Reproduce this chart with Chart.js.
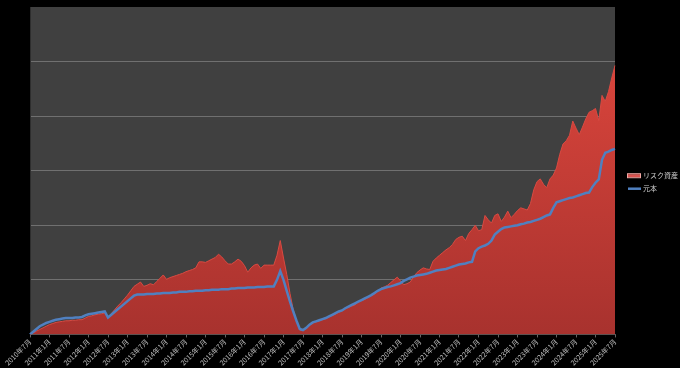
<!DOCTYPE html>
<html>
<head>
<meta charset="utf-8">
<script src="https://cdn.jsdelivr.net/npm/chart.js@4/dist/chart.umd.min.js"></script>
<style>
html,body{margin:0;padding:0;background:#000;}
#wrap{width:680px;height:368px;position:relative;}
</style>
</head>
<body>
<div id="wrap"><canvas id="c" width="680" height="368"></canvas></div>
<script>
// Monthly categories 2010年7月 .. 2025年7月
const startYear = 2010, startMonth = 7, monthCount = 181;
const categories = [];
for (let k = 0; k < monthCount; k++) {
  const m0 = startMonth - 1 + k;
  categories.push((startYear + Math.floor(m0 / 12)) + '年' + (m0 % 12 + 1) + '月');
}
const tickLabels = ['2010年7月','2011年1月','2011年7月','2012年1月','2012年7月','2013年1月','2013年7月','2014年1月','2014年7月','2015年1月','2015年7月','2016年1月','2016年7月','2017年1月','2017年7月','2018年1月','2018年7月','2019年1月','2019年7月','2020年1月','2020年7月','2021年1月','2021年7月','2022年1月','2022年7月','2023年1月','2023年7月','2024年1月','2024年7月','2025年1月','2025年7月'];

const seriesNames = ['元本', 'リスク資産'];

// 元本 (principal)
const principal = [
  0, 0.05, 0.10, 0.15, 0.18, 0.21, 0.23, 0.25, 0.27, 0.28, 0.29, 0.30,
  0.30, 0.30, 0.31, 0.31, 0.32, 0.35, 0.37, 0.38, 0.39, 0.40, 0.41, 0.42,
  0.31, 0.36, 0.41, 0.46, 0.51, 0.56, 0.61, 0.66, 0.71, 0.73, 0.73, 0.73,
  0.74, 0.74, 0.74, 0.75, 0.75, 0.76, 0.76, 0.76, 0.77, 0.77, 0.78, 0.78,
  0.78, 0.79, 0.79, 0.80, 0.80, 0.80, 0.81, 0.81, 0.82, 0.82, 0.82, 0.83,
  0.83, 0.83, 0.84, 0.84, 0.85, 0.85, 0.85, 0.86, 0.86, 0.86, 0.87, 0.87,
  0.87, 0.88, 0.88, 0.88, 1.00, 1.16, 1.00, 0.80, 0.60, 0.42, 0.25, 0.10,
  0.08, 0.12, 0.18, 0.22, 0.24, 0.26, 0.28, 0.30, 0.33, 0.36, 0.39, 0.42,
  0.44, 0.48, 0.51, 0.54, 0.57, 0.60, 0.63, 0.66, 0.69, 0.72, 0.76, 0.80,
  0.83, 0.85, 0.87, 0.88, 0.90, 0.92, 0.94, 0.98, 1.01, 1.04, 1.06, 1.08,
  1.09, 1.10, 1.11, 1.13, 1.15, 1.17, 1.18, 1.19, 1.20, 1.22, 1.24, 1.26,
  1.28, 1.29, 1.30, 1.32, 1.33, 1.52, 1.58, 1.61, 1.63, 1.66, 1.72, 1.83,
  1.88, 1.93, 1.96, 1.97, 1.98, 1.99, 2.00, 2.02, 2.03, 2.05, 2.06, 2.08,
  2.10, 2.12, 2.15, 2.18, 2.20, 2.32, 2.42, 2.44, 2.46, 2.48, 2.50, 2.51,
  2.53, 2.55, 2.57, 2.59, 2.60, 2.70, 2.78, 2.84, 3.20, 3.33, 3.35, 3.38, 3.40
];

// リスク資産 (risk assets)
const riskAssets = [
  0, 0.03, 0.06, 0.09, 0.12, 0.15, 0.18, 0.20, 0.22, 0.23, 0.24, 0.25,
  0.25, 0.26, 0.26, 0.27, 0.27, 0.30, 0.33, 0.34, 0.36, 0.37, 0.38, 0.39,
  0.31, 0.38, 0.45, 0.52, 0.58, 0.65, 0.72, 0.80, 0.88, 0.92, 0.96, 0.88,
  0.90, 0.93, 0.91, 0.97, 1.03, 1.09, 1.01, 1.04, 1.06, 1.08, 1.10, 1.12,
  1.15, 1.17, 1.19, 1.22, 1.33, 1.33, 1.32, 1.35, 1.38, 1.41, 1.47, 1.42,
  1.35, 1.29, 1.29, 1.33, 1.38, 1.34, 1.26, 1.14, 1.22, 1.27, 1.29, 1.21,
  1.27, 1.27, 1.27, 1.27, 1.45, 1.72, 1.40, 1.10, 0.75, 0.45, 0.25, 0.08,
  0.08, 0.11, 0.17, 0.21, 0.23, 0.25, 0.27, 0.29, 0.32, 0.35, 0.37, 0.41,
  0.43, 0.47, 0.50, 0.52, 0.54, 0.60, 0.62, 0.64, 0.68, 0.71, 0.74, 0.79,
  0.85, 0.87, 0.90, 0.95, 1.00, 1.05, 0.98, 0.91, 0.93, 0.96, 1.05, 1.13,
  1.18, 1.22, 1.20, 1.19, 1.34, 1.40, 1.45, 1.50, 1.55, 1.59, 1.65, 1.74,
  1.78, 1.80, 1.72, 1.85, 1.92, 2.00, 1.90, 1.92, 2.18, 2.10, 2.04, 2.18,
  2.21, 2.07, 2.15, 2.26, 2.14, 2.20, 2.27, 2.32, 2.30, 2.28, 2.40, 2.65,
  2.80, 2.85, 2.75, 2.69, 2.85, 2.92, 3.05, 3.30, 3.49, 3.55, 3.65, 3.91,
  3.78, 3.66, 3.80, 3.95, 4.07, 4.10, 4.14, 3.92, 4.38, 4.27, 4.45, 4.70, 4.93
];

const yMax = 6;
const FONT = '"Noto Sans CJK JP", "DejaVu Sans", sans-serif';

function redGradient(chart) {
  const a = chart.chartArea;
  if (!a) return '#c23b33';
  const g = chart.ctx.createLinearGradient(0, a.top, 0, a.bottom);
  g.addColorStop(0, '#e2483e');
  g.addColorStop(1, '#a8322e');
  return g;
}

const plotBg = {
  id: 'plotBg',
  beforeDraw(chart) {
    const a = chart.chartArea, ctx = chart.ctx;
    ctx.save();
    ctx.fillStyle = '#404040';
    ctx.fillRect(a.left, a.top, a.right - a.left, a.bottom - a.top);
    ctx.restore();
  }
};

// Legend drawn beside the plot, using dataset names/colours
const sideLegend = {
  id: 'sideLegend',
  afterDraw(chart) {
    const ctx = chart.ctx, a = chart.chartArea;
    const x0 = a.right + 13, yc = (a.top + a.bottom) / 2 + 5;
    const order = [1, 0];
    ctx.save();
    ctx.font = '7px ' + FONT;
    ctx.textBaseline = 'middle';
    ctx.fillStyle = '#d0d0d0';
    order.forEach((di, k) => {
      const ds = chart.data.datasets[di];
      const y = yc + k * 13;
      if (di === 1) {
        ctx.fillStyle = '#d9534f';
        ctx.fillRect(x0, y - 1.5, 12, 3);
        ctx.strokeStyle = '#f2a8a4';
        ctx.lineWidth = 1;
        ctx.strokeRect(x0 - 0.5, y - 2, 13, 4);
      } else {
        ctx.strokeStyle = ds.borderColor;
        ctx.lineWidth = 2.5;
        ctx.beginPath();
        ctx.moveTo(x0, y);
        ctx.lineTo(x0 + 13, y);
        ctx.stroke();
      }
      ctx.fillStyle = '#d0d0d0';
      ctx.fillText(ds.label, x0 + 15, y);
    });
    ctx.restore();
  }
};

new Chart(document.getElementById('c'), {
  type: 'line',
  data: {
    labels: categories,
    datasets: [
      {
        label: seriesNames[0],
        data: principal,
        borderColor: '#5080c0',
        borderWidth: 2.5,
        pointRadius: 0,
        fill: false,
        tension: 0
      },
      {
        label: seriesNames[1],
        data: riskAssets,
        borderColor: '#d84a42',
        borderWidth: 1,
        backgroundColor: (ctx) => redGradient(ctx.chart),
        pointRadius: 0,
        fill: 'origin',
        tension: 0
      }
    ]
  },
  options: {
    responsive: false,
    animation: false,
    layout: { padding: { left: 30, top: 7, right: 65, bottom: 1 } },
    plugins: {
      tooltip: { enabled: false },
      legend: { display: false }
    },
    scales: {
      x: {
        offset: false,
        grid: {
          drawOnChartArea: false,
          drawTicks: true,
          tickLength: 3,
          tickColor: (c) => (c.index % 6 === 0 ? '#666' : 'rgba(0,0,0,0)')
        },
        border: { display: true, color: '#555' },
        ticks: {
          autoSkip: false,
          maxRotation: 45,
          minRotation: 45,
          color: '#c0c0c0',
          font: { size: 7, family: FONT },
          padding: 0,
          callback: (v, i) => (i % 6 === 0 ? tickLabels[i / 6] : '')
        }
      },
      y: {
        min: 0,
        max: yMax,
        ticks: { display: false, stepSize: 1 },
        grid: {
          drawTicks: false,
          color: (c) => (c.tick && (c.tick.value === 0 || c.tick.value === yMax) ? 'rgba(0,0,0,0)' : '#707070'),
          lineWidth: 1
        },
        border: { display: true, color: '#2e2e2e' }
      }
    }
  },
  plugins: [plotBg, sideLegend]
});
</script>
</body>
</html>
